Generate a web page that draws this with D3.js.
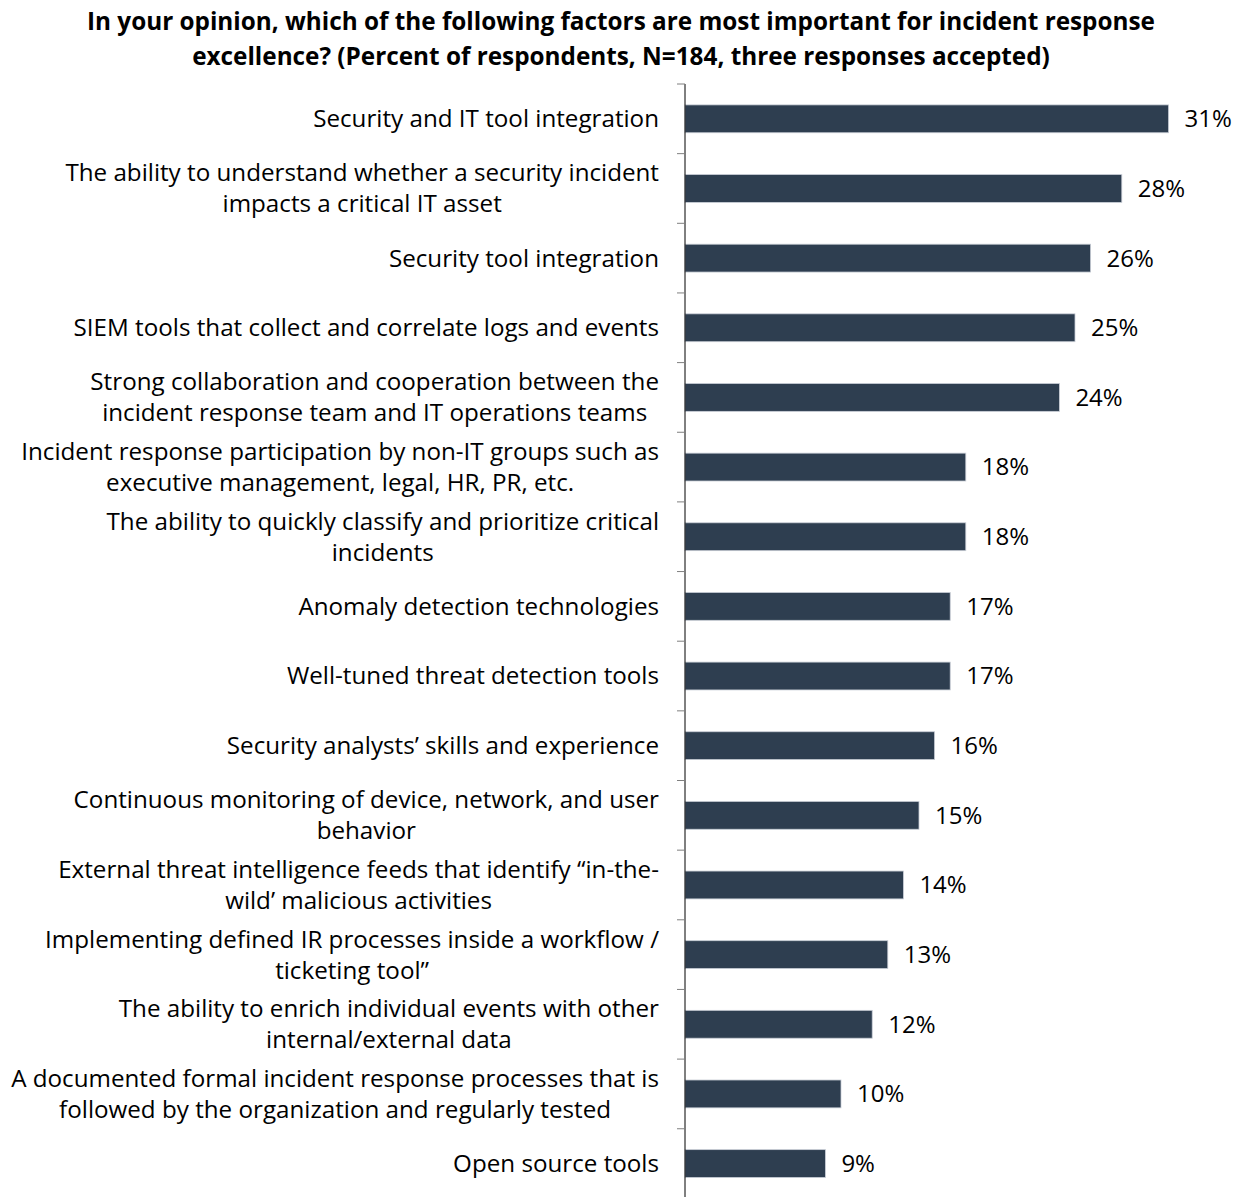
<!DOCTYPE html>
<html>
<head>
<meta charset="utf-8">
<script src="https://cdn.jsdelivr.net/npm/d3@7"></script>
<style>
  html, body { margin: 0; padding: 0; background: #fff; }
  svg { display: block; }
  text { font-family: "Open Sans", Lato, sans-serif; fill: #000; }
</style>
</head>
<body>
<svg id="chart" width="1244" height="1197"></svg>
<script>
// Factors (each entry is the list of wrapped label lines)
const categories = [
  ["Security and IT tool integration"],
  ["The ability to understand whether a security incident", "impacts a critical IT asset"],
  ["Security tool integration"],
  ["SIEM tools that collect and correlate logs and events"],
  ["Strong collaboration and cooperation between the", "incident response team and IT operations teams"],
  ["Incident response participation by non-IT groups such as", "executive management, legal, HR, PR, etc."],
  ["The ability to quickly classify and prioritize critical", "incidents"],
  ["Anomaly detection technologies"],
  ["Well-tuned threat detection tools"],
  ["Security analysts\u2019 skills and experience"],
  ["Continuous monitoring of device, network, and user", "behavior"],
  ["External threat intelligence feeds that identify \u201cin-the-", "wild\u2019 malicious activities"],
  ["Implementing defined IR processes inside a workflow /", "ticketing tool\u201d"],
  ["The ability to enrich individual events with other", "internal/external data"],
  ["A documented formal incident response processes that is", "followed by the organization and regularly tested"],
  ["Open source tools"]
];
// Percent of respondents
const values = [31, 28, 26, 25, 24, 18, 18, 17, 17, 16, 15, 14, 13, 12, 10, 9];

const titleLines = [
  "In your opinion, which of the following factors are most important for incident response",
  "excellence? (Percent of respondents, N=184, three responses accepted)"
];

const svg = d3.select("#chart");
const axisX = 685;

const ids = d3.range(categories.length);
const y = d3.scaleBand().domain(ids).range([84, 84 + 69.65 * categories.length]).paddingInner(0.6).paddingOuter(0.3);
const x = d3.scaleLinear().domain([0, 35]).range([axisX, axisX + 546]);

// Title
svg.append("g").selectAll("text").data(titleLines).join("text")
  .attr("x", 621).attr("y", (d, i) => 30 + i * 35)
  .attr("text-anchor", "middle")
  .style("font-size", "24.3px").style("font-weight", "bold")
  .text(d => d);

// Bars
svg.append("g").selectAll("rect").data(values).join("rect")
  .attr("x", x(0))
  .attr("y", (d, i) => y(i))
  .attr("width", d => x(d) - x(0))
  .attr("height", y.bandwidth())
  .attr("fill", "#2e3e50")
  .attr("stroke", "#c9ced6").attr("stroke-width", 0.8);

// Value labels
svg.append("g").selectAll("text").data(values).join("text")
  .attr("x", d => x(d) + 16)
  .attr("y", (d, i) => y(i) + y.bandwidth() / 2)
  .attr("dy", "0.35em")
  .style("font-size", "24px")
  .text(d => d + "%");

// Category axis: line and ticks at band boundaries
const band = d3.scaleLinear().domain([0, categories.length]).range(y.range());
const axisG = svg.append("g");
axisG.append("line")
  .attr("x1", axisX).attr("x2", axisX)
  .attr("y1", band(0)).attr("y2", band(categories.length))
  .attr("stroke", "#000").attr("stroke-width", 1);
axisG.selectAll("line.tick").data(d3.range(categories.length + 1)).join("line")
  .attr("class", "tick")
  .attr("x1", axisX - 8).attr("x2", axisX)
  .attr("y1", d => band(d)).attr("y2", d => band(d))
  .attr("stroke", "#7f7f7f").attr("stroke-width", 1);

// Category labels
const lineH = 31;
const labels = svg.append("g").selectAll("text").data(categories).join("text")
  .attr("text-anchor", "middle")
  .style("font-size", "24.2px");
labels.each(function(lines, i) {
  const cy = y(i) + y.bandwidth() / 2;
  const t = d3.select(this);
  lines.forEach((ln, k) => {
    t.append("tspan")
      .attr("x", 0)
      .attr("y", cy + (k - (lines.length - 1) / 2) * lineH)
      .attr("dy", "0.35em")
      .text(ln);
  });
  // right edge of the widest line sits at x = 659; lines centred under each other
  const w = d3.max(t.selectAll("tspan").nodes(), n => n.getComputedTextLength());
  t.selectAll("tspan").attr("x", 659 - w / 2);
});
</script>
</body>
</html>
